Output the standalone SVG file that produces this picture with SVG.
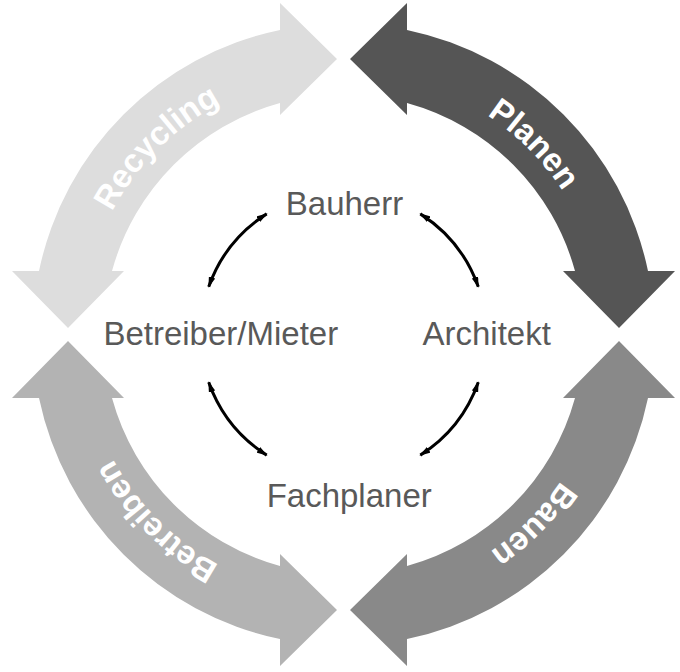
<svg xmlns="http://www.w3.org/2000/svg" xmlns:xlink="http://www.w3.org/1999/xlink" width="680" height="672" viewBox="0 0 680 672">
  <defs>
    <style>
      .lbl { font-family: "Liberation Sans", Arial, sans-serif; font-size: 33px; fill: #595959; text-anchor: middle; }
      .big { font-family: "Liberation Sans", Arial, sans-serif; font-size: 33px; font-weight: bold; fill: #ffffff; }
      .conn { fill: none; stroke: #000000; stroke-width: 3; marker-start: url(#ah); marker-end: url(#ah); }
    </style>
    <marker id="ah" viewBox="0 0 10 6" refX="9" refY="3" markerWidth="11" markerHeight="6.6" markerUnits="userSpaceOnUse" orient="auto-start-reverse">
      <path d="M0,0 L10,3 L0,6 Z" fill="#000000"/>
    </marker>
    <path id="bigArrow" d="M6.5,-275.5 L63.5,-331.5 L63.5,-304.5 A311 311 0 0 1 304.5,-63.5 L331.5,-63.5 L275.5,-6.5 L219.5,-63.5 L231.5,-63.5 A240 240 0 0 0 63.5,-231.5 L63.5,-219.5 Z"/>
    <path id="tpPlanen" d="M343.5,72.5 A262 262 0 0 1 605.5,334.5"/>
    <path id="tpBauen" d="M605.5,334.5 A262 262 0 0 1 343.5,596.5"/>
    <path id="tpBetreiben" d="M343.5,596.5 A262 262 0 0 1 81.5,334.5"/>
    <path id="tpRecycling" d="M81.5,334.5 A262 262 0 0 1 343.5,72.5"/>
  </defs>
  <rect width="680" height="672" fill="#ffffff"/>

  <g id="planen">
    <use xlink:href="#bigArrow" href="#bigArrow" transform="translate(343.5,334.5)" fill="#555555"/>
    <text class="big"><textPath xlink:href="#tpPlanen" href="#tpPlanen" startOffset="50%" text-anchor="middle">Planen</textPath></text>
  </g>
  <g id="bauen">
    <use xlink:href="#bigArrow" href="#bigArrow" transform="translate(343.5,334.5) scale(1,-1)" fill="#898989"/>
    <text class="big"><textPath xlink:href="#tpBauen" href="#tpBauen" startOffset="50%" text-anchor="middle">Bauen</textPath></text>
  </g>
  <g id="betreiben">
    <use xlink:href="#bigArrow" href="#bigArrow" transform="translate(343.5,334.5) scale(-1,-1)" fill="#b3b3b3"/>
    <text class="big"><textPath xlink:href="#tpBetreiben" href="#tpBetreiben" startOffset="50%" text-anchor="middle">Betreiben</textPath></text>
  </g>
  <g id="recycling">
    <use xlink:href="#bigArrow" href="#bigArrow" transform="translate(343.5,334.5) scale(-1,1)" fill="#dddddd"/>
    <text class="big"><textPath xlink:href="#tpRecycling" href="#tpRecycling" startOffset="50%" text-anchor="middle">Recycling</textPath></text>
  </g>

  <g id="bauherr"><text class="lbl" x="344.5" y="215">Bauherr</text></g>
  <g id="architekt"><text class="lbl" x="486.7" y="345">Architekt</text></g>
  <g id="fachplaner"><text class="lbl" x="349.2" y="507">Fachplaner</text></g>
  <g id="betreiber"><text class="lbl" x="220.8" y="345">Betreiber/Mieter</text></g>

  <g id="connectors">
    <path class="conn" d="M420.33,213.89 A143 143 0 0 1 478.29,286.77"/>
    <path class="conn" d="M478.29,382.23 A143 143 0 0 1 420.33,455.11"/>
    <path class="conn" d="M266.67,455.11 A143 143 0 0 1 208.71,382.23"/>
    <path class="conn" d="M208.71,286.77 A143 143 0 0 1 266.67,213.89"/>
  </g>
</svg>
